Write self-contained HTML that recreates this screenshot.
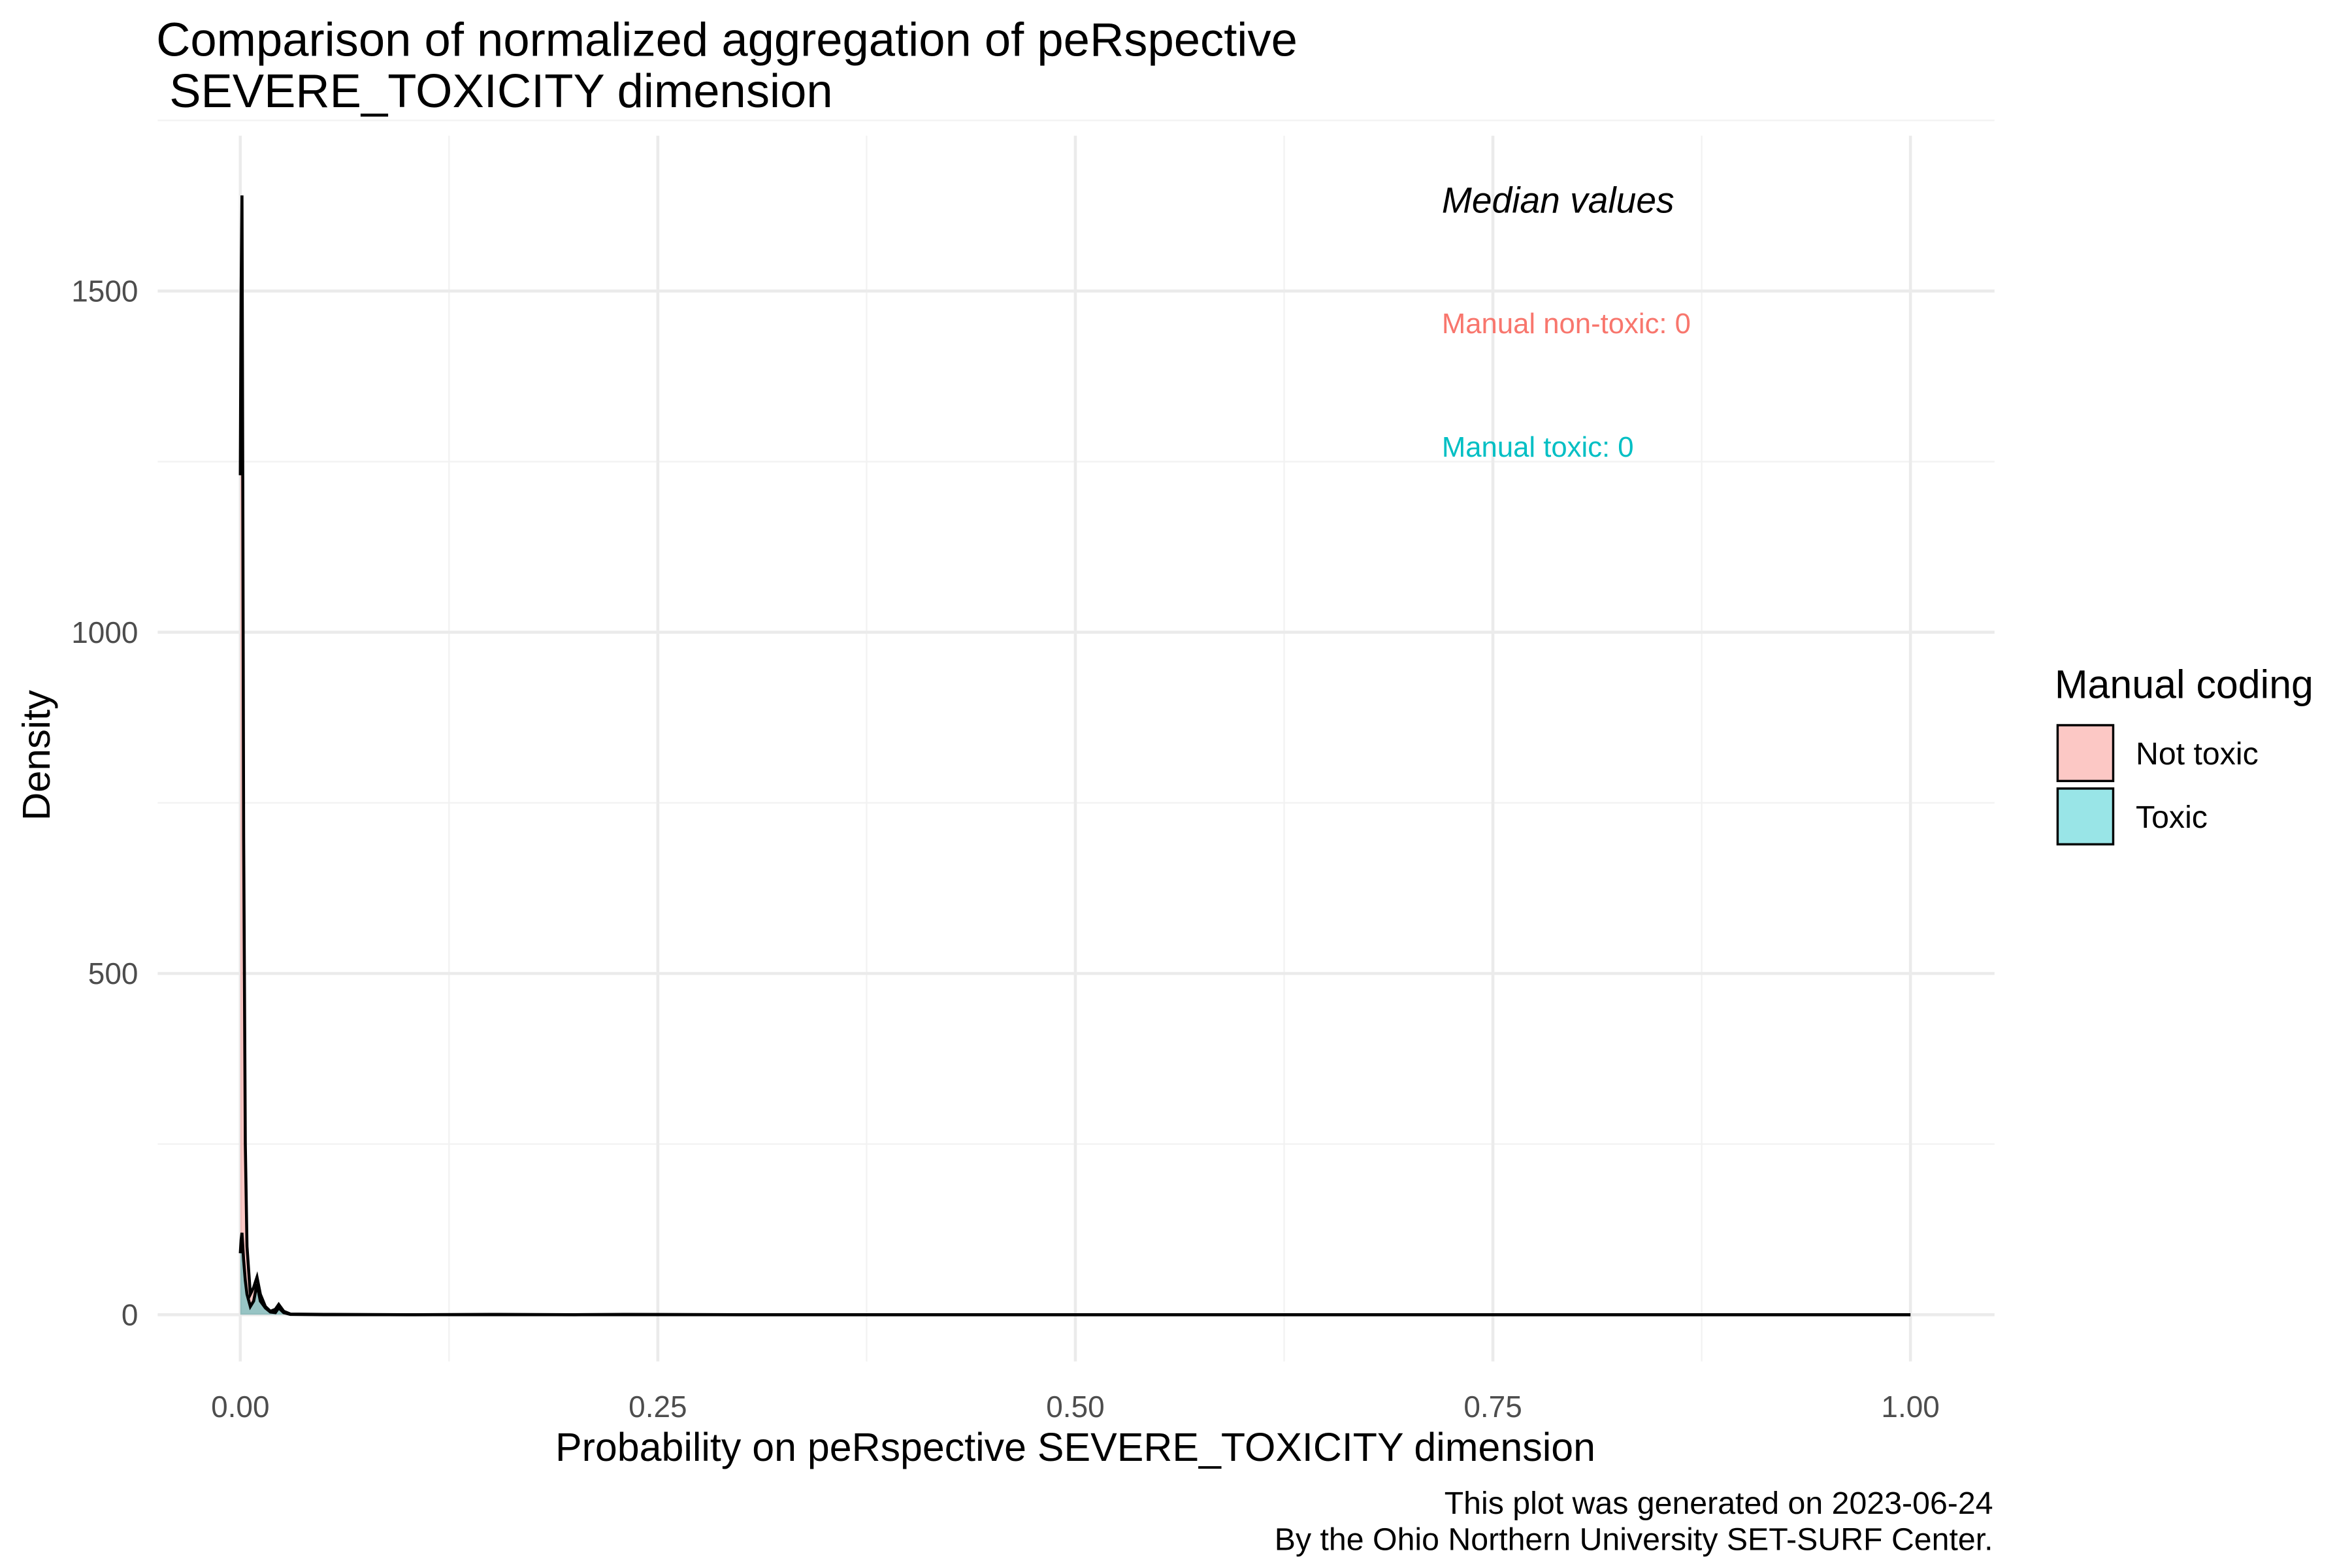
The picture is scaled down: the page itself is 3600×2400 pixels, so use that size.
<!DOCTYPE html>
<html><head><meta charset="utf-8"><style>html,body{margin:0;padding:0;background:#fff}svg{display:block}text{font-family:"Liberation Sans",Arial,sans-serif}</style></head>
<body>
<svg id="chart" width="3600" height="2400" viewBox="0 0 1566 1040" preserveAspectRatio="none" xmlns="http://www.w3.org/2000/svg">
<rect width="1566" height="1040" fill="#fff"/>
<g id="grid"></g>
<g id="marks"></g>
<g id="axes"></g>
<text x="104" y="37" font-size="31.5" fill="#000">Comparison of normalized aggregation of peRspective</text>
<text x="104" y="71" font-size="31.5" fill="#000">&#160;SEVERE_TOXICITY dimension</text>
<text x="960" y="141" font-size="24" font-style="italic" fill="#000">Median values</text>
<text x="960" y="221" font-size="19" fill="#F8766D">Manual non-toxic: 0</text>
<text x="960" y="303" font-size="19" fill="#00BFC4">Manual toxic: 0</text>
<text x="716" y="969" font-size="26.5" text-anchor="middle" fill="#000">Probability on peRspective SEVERE_TOXICITY dimension</text>
<text transform="translate(33,501) rotate(-90)" font-size="26" text-anchor="middle" fill="#000">Density</text>
<text x="1327" y="1004" font-size="21" text-anchor="end" fill="#000">This plot was generated on 2023-06-24</text>
<text x="1327" y="1028" font-size="21" text-anchor="end" fill="#000">By the Ohio Northern University SET-SURF Center.</text>
<g>
<text x="1368" y="463" font-size="26.5" fill="#000">Manual coding</text>
<rect x="1370" y="481" width="37" height="37" fill="rgba(248,118,109,0.4)" stroke="#000" stroke-width="1.5"/>
<text x="1422" y="507" font-size="21" fill="#000">Not toxic</text>
<rect x="1370" y="523" width="37" height="37" fill="rgba(0,191,196,0.4)" stroke="#000" stroke-width="1.5"/>
<text x="1422" y="549" font-size="21" fill="#000">Toxic</text>
</g>
</svg>
<script>
const xValues = [0,0.0005,0.001,0.0015,0.002,0.003,0.004,0.006,0.008,0.01,0.012,0.015,0.018,0.021,0.023,0.026,0.03,0.05,0.1,0.15,0.2,0.23,0.3,0.5,1];
const notToxicDensity = [1230,1500,1640,1200,700,250,100,30,40,55,30,12,5,8,15,5,1,0.5,0,0.5,0,0.5,0,0,0];
const toxicDensity = [90,110,120,100,80,50,30,12,20,45,20,10,4,3,10,3,0.5,0,0,0,0,0,0,0,0];
const xTicks = [0,0.25,0.5,0.75,1];
const xTickLabels = ["0.00","0.25","0.50","0.75","1.00"];
const yTicks = [0,500,1000,1500];
const yTickLabels = ["0","500","1000","1500"];
const NS="http://www.w3.org/2000/svg";
const X0=160,X1=1272,Y0=872,Y1500=193;
const xs=v=>X0+(X1-X0)*v;
const ys=v=>Y0-(Y0-Y1500)*v/1500;
const PL=105,PR=1328,PT=90,PB=903;
function mk(tag,attrs,parent){const e=document.createElementNS(NS,tag);for(const k in attrs)e.setAttribute(k,attrs[k]);parent.appendChild(e);return e;}
const grid=document.getElementById('grid'),marks=document.getElementById('marks'),axes=document.getElementById('axes');
for(let i=0;i<xTicks.length-1;i++){const v=(xTicks[i]+xTicks[i+1])/2;const l=mk('line',{x1:xs(v),x2:xs(v),y1:PT,y2:PB,stroke:'#f2f2f2','stroke-width':1},grid);

}
for(let i=0;i<yTicks.length;i++){const v=yTicks[i]+250;const l=mk('line',{x1:PL,x2:PR,y1:ys(v),y2:ys(v),stroke:'#f2f2f2','stroke-width':1},grid);

}
xTicks.forEach((v,i)=>{const l=mk('line',{x1:xs(v),x2:xs(v),y1:PT,y2:PB,stroke:'#ebebeb','stroke-width':2},grid);


const t=mk('text',{x:xs(v),y:940,'font-size':20,'text-anchor':'middle',fill:'#4d4d4d'},axes);t.textContent=xTickLabels[i];

});
yTicks.forEach((v,i)=>{const l=mk('line',{x1:PL,x2:PR,y1:ys(v),y2:ys(v),stroke:'#ebebeb','stroke-width':2},grid);


const t=mk('text',{x:92,y:ys(v)+7,'font-size':20,'text-anchor':'end',fill:'#4d4d4d'},axes);t.textContent=yTickLabels[i];

});
function area(vals,fill,name){let d='M'+xs(xValues[0])+','+ys(0);let line='';
vals.forEach((v,i)=>{d+=' L'+xs(xValues[i])+','+ys(v);line+=(i?' L':'M')+xs(xValues[i])+','+ys(v);});
d+=' L'+xs(xValues[xValues.length-1])+','+ys(0)+' Z';
const a=mk('path',{d:d,fill:fill,stroke:'none'},marks);


const l=mk('path',{d:line,fill:'none',stroke:'#000','stroke-width':2},marks);

}
area(notToxicDensity,'rgba(248,118,109,0.4)','not-toxic-density');
area(toxicDensity,'rgba(0,191,196,0.4)','toxic-density');
</script>
</body></html>
